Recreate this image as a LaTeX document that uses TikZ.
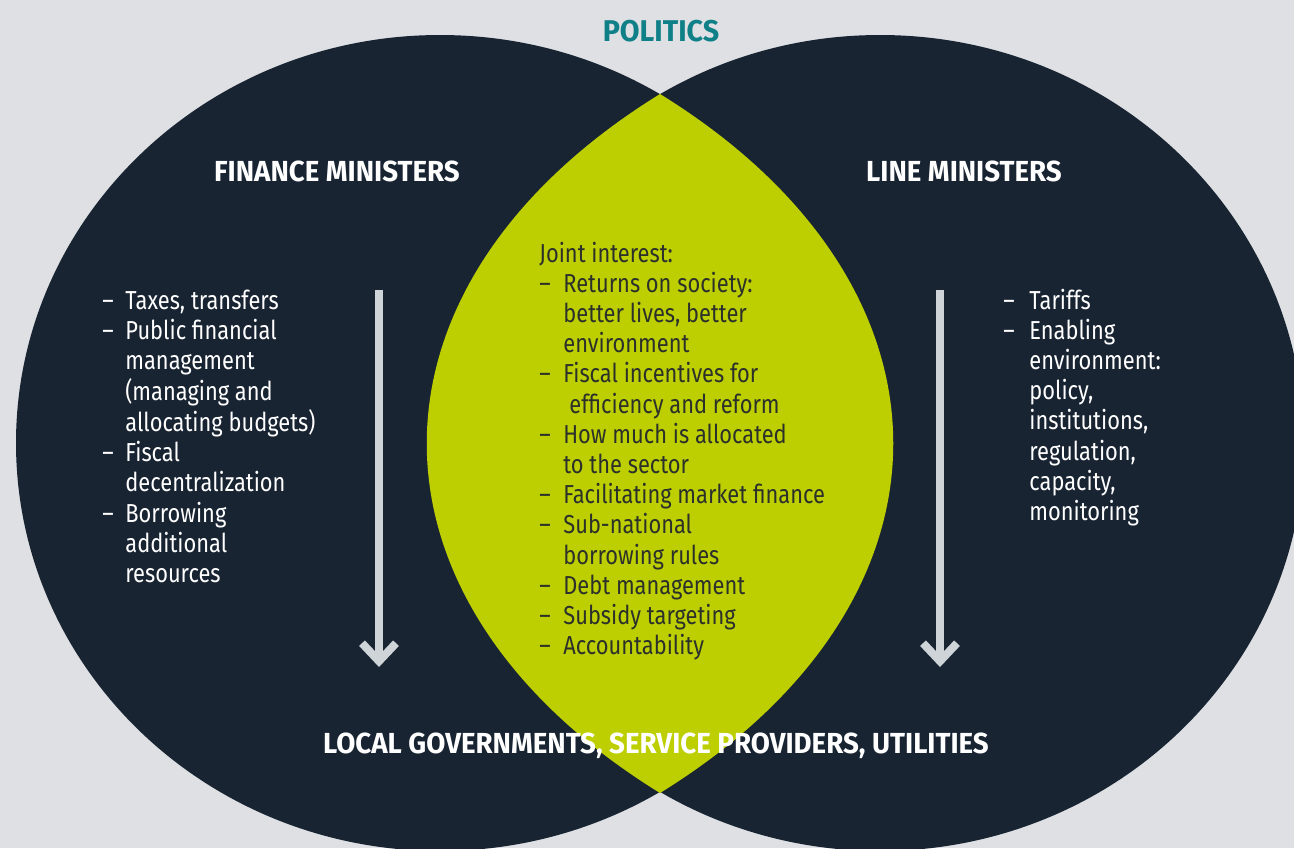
\documentclass[tikz,border=0pt]{standalone}
\usepackage{fontspec}
\setmainfont{Fira Sans}[FakeStretch=0.84]
\newfontfamily\headfont{Fira Sans}[FakeStretch=0.955]
\usetikzlibrary{arrows.meta}

\definecolor{bggray}{rgb}{0.87, 0.88, 0.89}
\definecolor{darknavy}{rgb}{0.10, 0.14, 0.20}
\definecolor{lenslime}{rgb}{0.74, 0.81, 0.0}
\definecolor{politicsteal}{rgb}{0.06, 0.50, 0.53}
\definecolor{arrowgray}{rgb}{0.81, 0.83, 0.85}
\definecolor{lenstext}{rgb}{0.17, 0.19, 0.17}

\begin{document}
\begin{tikzpicture}[x=0.5pt,y=-0.5pt,
    heading/.style={anchor=base,inner sep=0pt,text=white,font=\fontsize{14.5}{17}\selectfont\headfont\bfseries},
    listtext/.style={anchor=base west,inner sep=0pt,font=\fontsize{13}{15.1}\selectfont},
    downarrow/.style={draw=arrowgray,line width=4pt,-{Straight Barb[length=9pt,width=17pt]}}]

    % Background
    \clip (0,0) rectangle (1294,848);
    \fill[bggray] (0,0) rectangle (1294,848);

    % Finance and line ministers circles
    \fill[darknavy] (440,443) ellipse [x radius=424, y radius=408];
    \fill[darknavy] (880,443) ellipse [x radius=424, y radius=408];

    % Joint interest lens
    \fill[lenslime] (660,94) .. controls (971,286) and (971,601) .. (660,793)
        .. controls (349,601) and (349,286) .. (660,94);

    % Headings
    \node[heading,text=politicsteal,font=\fontsize{15}{18}\selectfont\headfont\bfseries] (politics) at (661,41) {POLITICS};
    \node[heading] (finance) at (337,181) {FINANCE MINISTERS};
    \node[heading] (line) at (964,181) {LINE MINISTERS};
    \node[heading] (local) at (656,753) {LOCAL GOVERNMENTS, SERVICE PROVIDERS, UTILITIES};

    % Finance ministers list
    \node[listtext,text=white] (finlist) at (102,309) {\begin{tabular}[t]{@{}p{11.5pt}@{}l@{}}
        –& Taxes, transfers\\
        –& Public financial\\
         & management\\
         & (managing and\\
         & allocating budgets)\\
        –& Fiscal\\
         & decentralization\\
        –& Borrowing\\
         & additional\\
         & resources
    \end{tabular}};

    % Joint interest list
    \node[listtext,text=lenstext] (jointlist) at (539,262) {\begin{tabular}[t]{@{}p{12pt}@{}l@{}}
        \multicolumn{2}{@{}l@{}}{Joint interest:}\\
        –& Returns on society:\\
         & better lives, better\\
         & environment\\
        –& Fiscal incentives for\\
         & \hspace{3pt}efficiency and reform\\
        –& How much is allocated\\
         & to the sector\\
        –& Facilitating market finance\\
        –& Sub-national\\
         & borrowing rules\\
        –& Debt management\\
        –& Subsidy targeting\\
        –& Accountability
    \end{tabular}};

    % Line ministers list
    \node[listtext,text=white] (linelist) at (1003,309) {\begin{tabular}[t]{@{}p{13pt}@{}l@{}}
        –& Tariffs\\
        –& Enabling\\
         & environment:\\
         & policy,\\
         & institutions,\\
         & regulation,\\
         & capacity,\\
         & monitoring
    \end{tabular}};

    % Arrows down to local governments
    \coordinate (finTop) at (379,290);
    \coordinate (finEnd) at (379,667);
    \coordinate (lineTop) at (940,290);
    \coordinate (lineEnd) at (940,667);
    \draw[downarrow] (finTop) -- (finEnd);
    \draw[downarrow] (lineTop) -- (lineEnd);
\end{tikzpicture}
\end{document}
